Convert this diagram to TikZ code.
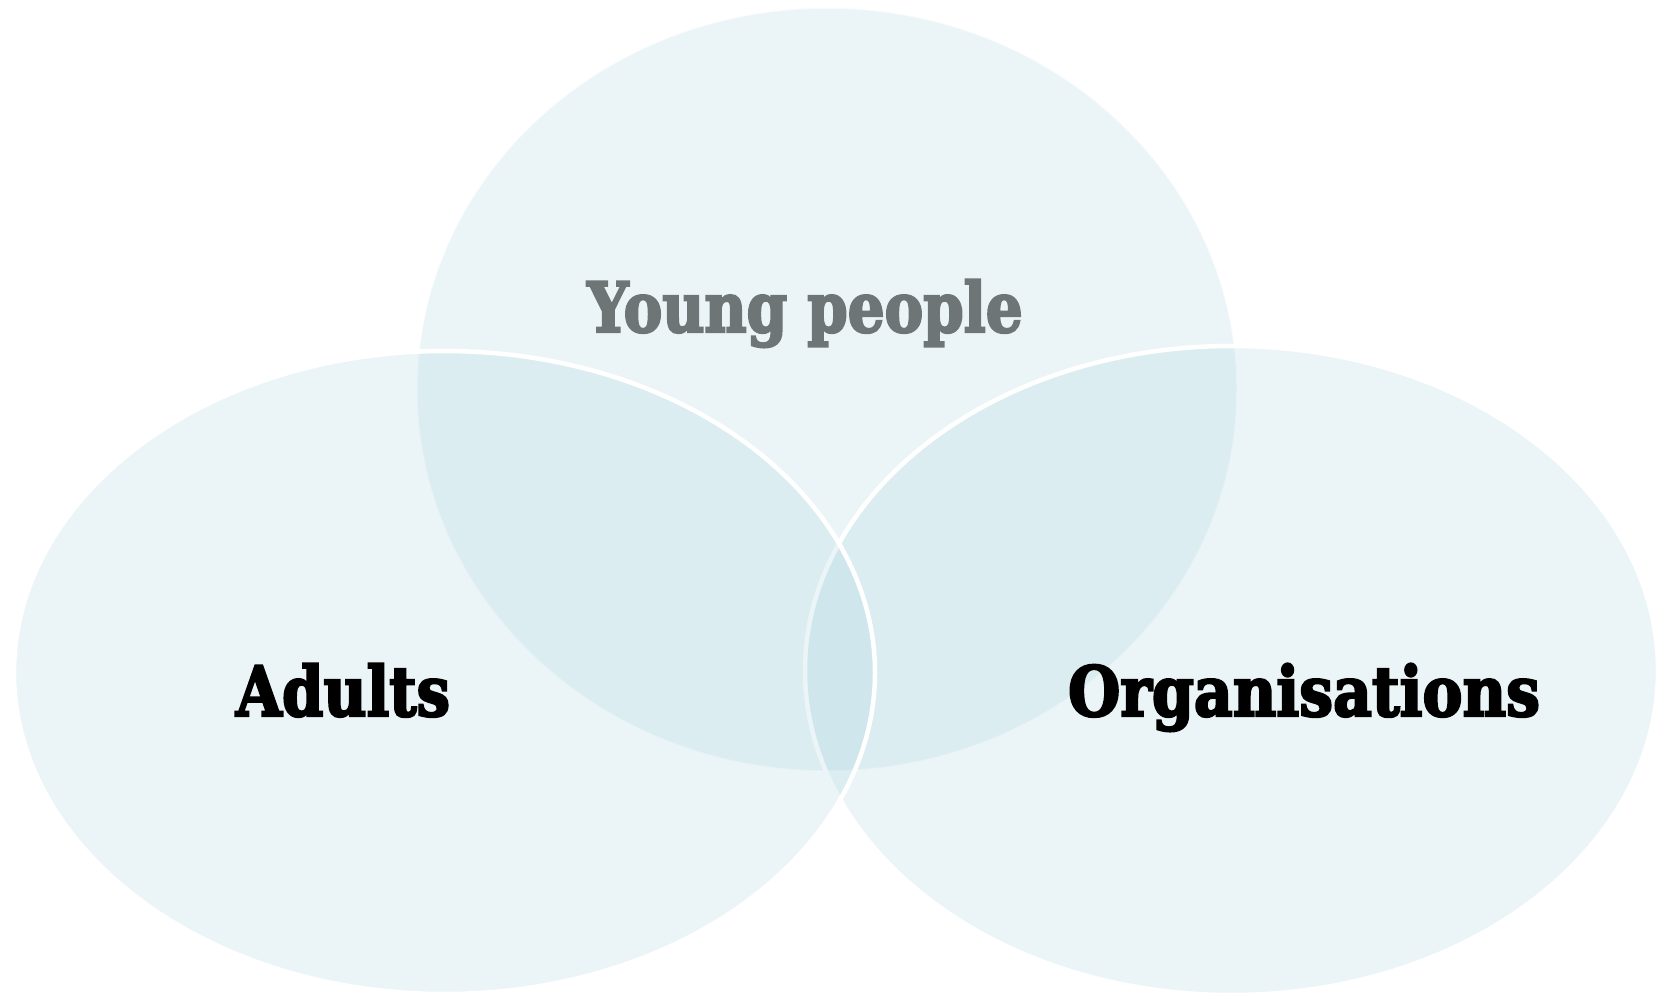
\documentclass[tikz,border=0pt]{standalone}
\usepackage{fontspec}
\setmainfont{DejaVu Serif}[BoldFeatures={FakeBold=3.5}]
\usetikzlibrary{shapes.geometric}
\definecolor{vennfill}{RGB}{165,211,221}
\definecolor{ygray}{RGB}{110,117,119}
\newcommand{\squeezetxt}[2]{\scalebox{#1}[1]{#2}}
\tikzset{
  venn/.style={ellipse, fill=vennfill, fill opacity=0.22, inner sep=0pt},
  vennline/.style={draw=white, line width=4.5pt},
  lbl/.style={anchor=base, inner sep=0pt, font=\fontsize{69}{80}\selectfont\bfseries}
}
\begin{document}
\begin{tikzpicture}[x=1pt,y=-1pt]
\useasboundingbox (0,0) rectangle (1668,995);
\fill[white] (0,0) rectangle (1668,995);
\node[venn, draw=white, draw opacity=0.6, line width=1.5pt, minimum width=820pt, minimum height=763pt] (young) at (827,389.5) {};
\node[venn, vennline, minimum width=853pt, minimum height=649pt] (orgs) at (1231.5,670.5) {};
\node[venn, vennline, minimum width=861pt, minimum height=643pt] (adults) at (444.5,672.5) {};
\node[lbl, text=ygray] (tyoung) at (805,332) {\squeezetxt{0.84}{Young people}};
\node[lbl, text=black] (tadults) at (343,716) {\squeezetxt{0.86}{Adults}};
\node[lbl, text=black] (torgs) at (1304,716) {\squeezetxt{0.87}{Organisations}};
\end{tikzpicture}
\end{document}
